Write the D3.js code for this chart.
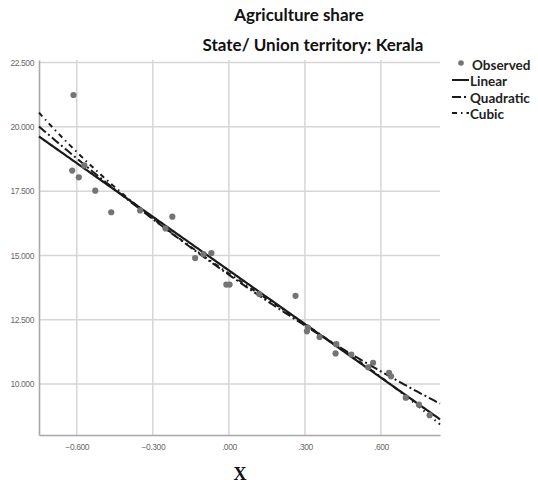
<!DOCTYPE html>
<html>
<head>
<meta charset="utf-8">
<script src="https://cdn.jsdelivr.net/npm/d3@7"></script>
<style>
  html, body { margin: 0; padding: 0; background: #fff; }
  svg { display: block; }
</style>
</head>
<body>
<svg id="chart" width="538" height="491"></svg>
<script>
// Observed standardized X against agriculture share (Kerala)
const obsX = [-0.613, -0.618, -0.592, -0.527, -0.570, -0.464, -0.350, -0.250, -0.223, -0.133,
              -0.069, -0.100, -0.010, 0.003, 0.120, 0.263, 0.308, 0.312, 0.358, 0.421,
              0.424, 0.483, 0.550, 0.569, 0.632, 0.640, 0.698, 0.750, 0.792];
const obsY = [21.24, 18.30, 18.04, 17.52, 18.50, 16.68, 16.75, 16.05, 16.51, 14.90,
              15.09, 15.05, 13.87, 13.87, 13.50, 13.43, 12.05, 12.20, 11.83, 11.19,
              11.55, 11.15, 10.65, 10.83, 10.44, 10.30, 9.47, 9.20, 8.79];

// Fitted model coefficients (constant, b1, b2, b3)
const linearCoef = [14.42, -6.95];
const quadraticCoef = [14.25, -6.90, 1.063];
const cubicCoef = [14.30, -6.70, 0.960, -1.653];

// Axis ticks
const xTicks = [-0.6, -0.3, 0.0, 0.3, 0.6];
const yTicks = [10, 12.5, 15, 17.5, 20, 22.5];

const titleLines = ["Agriculture share", "State/ Union territory: Kerala"];
const legendLabels = ["Observed", "Linear", "Quadratic", "Cubic"];

const svg = d3.select("#chart");

const x = d3.scaleLinear().domain([-0.749, 0.833]).range([39, 440]);
const y = d3.scaleLinear().domain([8.02, 22.6]).range([435, 60]);

const gridColor = "#d6d6d6";
const tickFont = "'Liberation Sans Narrow', 'Liberation Sans', Arial, sans-serif";

// Gridlines
svg.append("g").selectAll("line.vg").data(xTicks).join("line")
  .attr("x1", d => x(d)).attr("x2", d => x(d))
  .attr("y1", y.range()[1]).attr("y2", y.range()[0])
  .attr("stroke", gridColor).attr("stroke-width", 1.5);
svg.append("g").selectAll("line.hg").data(yTicks).join("line")
  .attr("x1", x.range()[0]).attr("x2", x.range()[1])
  .attr("y1", d => y(d)).attr("y2", d => y(d))
  .attr("stroke", gridColor).attr("stroke-width", 1.5);

// Axes
const fmt = d => d3.format(".3f")(d).replace(/^(-?)0\./, "$1.");
const xAxis = svg.append("g").attr("transform", `translate(0,${y.range()[0]})`)
  .call(d3.axisBottom(x).tickValues(xTicks).tickFormat(fmt).tickSize(0).tickPadding(9));
const yAxis = svg.append("g").attr("transform", `translate(${x.range()[0]},0)`)
  .call(d3.axisLeft(y).tickValues(yTicks).tickFormat(d3.format(".3f")).tickSize(0).tickPadding(5));
[xAxis, yAxis].forEach(g => {
  g.select(".domain").attr("stroke", "#a8a8a8").attr("stroke-width", 1.6);
  g.selectAll("text").attr("fill", "#6a6a6a").attr("font-family", tickFont)
    .attr("font-size", 8.5).attr("letter-spacing", -0.4);
});

// Fitted curves
const poly = c => v => c.reduce((s, k, i) => s + k * Math.pow(v, i), 0);
const xs = d3.range(x.domain()[0], x.domain()[1] + 1e-9, (x.domain()[1] - x.domain()[0]) / 200);
const lineGen = f => d3.line().x(v => x(v)).y(v => y(f(v)));
const curves = [
  { coef: linearCoef, dash: null, w: 2.2 },
  { coef: quadraticCoef, dash: "9,3,2,3", w: 2.0 },
  { coef: cubicCoef, dash: "5,4,1.5,4", w: 2.0 }
];
curves.forEach(c => {
  svg.append("path").datum(xs)
    .attr("d", lineGen(poly(c.coef)))
    .attr("fill", "none").attr("stroke", "#1a1a1a")
    .attr("stroke-width", c.w)
    .attr("stroke-dasharray", c.dash);
});

// Observed points
svg.append("g").selectAll("circle").data(obsX).join("circle")
  .attr("cx", d => x(d)).attr("cy", (d, i) => y(obsY[i]))
  .attr("r", 3.1).attr("fill", "#747474");

// Titles
const titleFont = "Lato, 'Open Sans', sans-serif";
svg.append("text").attr("x", 299).attr("y", 21).attr("text-anchor", "middle")
  .attr("font-family", titleFont).attr("font-weight", "bold").attr("font-size", 17)
  .attr("fill", "#111").text(titleLines[0]);
svg.append("text").attr("x", 313).attr("y", 51).attr("text-anchor", "middle")
  .attr("font-family", titleFont).attr("font-weight", "bold").attr("font-size", 17)
  .attr("fill", "#111").text(titleLines[1]);

// X axis title
svg.append("text").attr("x", 240).attr("y", 480).attr("text-anchor", "middle")
  .attr("font-family", "'Liberation Serif', 'DejaVu Serif', serif").attr("font-weight", "bold")
  .attr("font-size", 18).attr("fill", "#111").text("X");

// Legend
const legend = svg.append("g");
const legY = [65, 81, 98, 114];
legend.append("circle").attr("cx", 461).attr("cy", legY[0] - 2).attr("r", 2.8).attr("fill", "#747474");
[null, "9,3,2,3", "5,4,1.5,4"].forEach((dash, i) => {
  legend.append("line").attr("x1", 452).attr("x2", 469)
    .attr("y1", legY[i + 1] - 1).attr("y2", legY[i + 1] - 1)
    .attr("stroke", "#1a1a1a").attr("stroke-width", 2).attr("stroke-dasharray", dash);
});
legendLabels.forEach((t, i) => {
  legend.append("text").attr("x", i === 0 ? 472 : 470).attr("y", legY[i] + 4.5)
    .attr("font-family", titleFont).attr("font-weight", "bold").attr("font-size", 13.5)
    .attr("fill", "#222").text(t);
});
</script>
</body>
</html>
